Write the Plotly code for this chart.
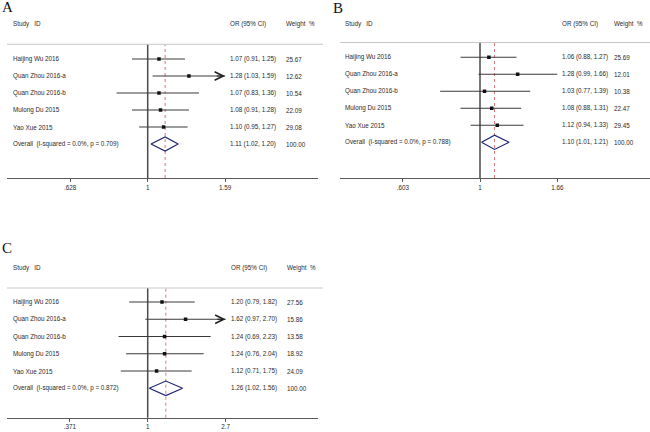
import numpy as np
import plotly.graph_objects as go

# ---------------- data ----------------
studies = ["Haijing Wu 2016", "Quan Zhou 2016-a", "Quan Zhou 2016-b",
           "Mulong Du 2015", "Yao Xue 2015"]

a_or = [1.07, 1.28, 1.07, 1.08, 1.10]
a_lo = [0.91, 1.03, 0.83, 0.91, 0.95]
a_hi = [1.25, 1.59, 1.36, 1.28, 1.27]
a_w = [25.67, 12.62, 10.54, 22.09, 29.08]
a_arrow = [False, True, False, False, False]
a_overall = [1.11, 1.02, 1.20]
a_i2, a_p = "0.0%", "0.709"
a_tickvals = [0.628, 1, 1.59]
a_ticktext = [".628", "1", "1.59"]

b_or = [1.06, 1.28, 1.03, 1.08, 1.12]
b_lo = [0.88, 0.99, 0.77, 0.88, 0.94]
b_hi = [1.27, 1.66, 1.39, 1.31, 1.33]
b_w = [25.69, 12.01, 10.38, 22.47, 29.45]
b_arrow = [False, False, False, False, False]
b_overall = [1.10, 1.01, 1.21]
b_i2, b_p = "0.0%", "0.788"
b_tickvals = [0.603, 1, 1.66]
b_ticktext = [".603", "1", "1.66"]

c_or = [1.20, 1.62, 1.24, 1.24, 1.12]
c_lo = [0.79, 0.97, 0.69, 0.76, 0.71]
c_hi = [1.82, 2.70, 2.23, 2.04, 1.75]
c_w = [27.56, 15.86, 13.58, 18.92, 24.09]
c_arrow = [False, True, False, False, False]
c_overall = [1.26, 1.02, 1.56]
c_i2, c_p = "0.0%", "0.872"
c_tickvals = [0.371, 1, 2.7]
c_ticktext = [".371", "1", "2.7"]

panel_labels = ["A", "B", "C"]

# ---------------- layout geometry (pixels) ----------------
W, H = 650, 432
def px(x):
    return x / W
def py(y):
    return 1 - y / H

FONT = "Liberation Sans, Arial, sans-serif"
FS = 6.3
TXT = "#2a2a2a"

panels = [
    dict(label="A", data=(a_or, a_lo, a_hi, a_w, a_arrow, a_overall, a_i2, a_p, a_tickvals, a_ticktext),
         xd=(7, 318), yd=(44.3, 178), xnull=147.7, scale=167.0, row0=59.0, rstep=17.0,
         head_y=24, lab=(0, 7), name_x=11, or_x=228, w_x=284, ax="x", ay="y"),
    dict(label="B", data=(b_or, b_lo, b_hi, b_w, b_arrow, b_overall, b_i2, b_p, b_tickvals, b_ticktext),
         xd=(340, 650), yd=(42.5, 178), xnull=480.0, scale=152.5, row0=57.3, rstep=17.0,
         head_y=24, lab=(331, 8), name_x=343, or_x=560, w_x=612, ax="x2", ay="y2"),
    dict(label="C", data=(c_or, c_lo, c_hi, c_w, c_arrow, c_overall, c_i2, c_p, c_tickvals, c_ticktext),
         xd=(7, 318), yd=(288, 417.7), xnull=147.7, scale=78.5, row0=302.0, rstep=17.26,
         head_y=267.7, lab=(0, 248), name_x=11, or_x=229, w_x=285, ax="x3", ay="y3"),
]

fig = go.Figure()
annotations = []
shapes = []
layout_axes = {}

for p in panels:
    ors, los, his, ws, arrows, ov, i2, pval, tv, tt = p["data"]
    xa, ya = p["ax"], p["ay"]
    xkey = "xaxis" + xa[1:]
    ykey = "yaxis" + ya[1:]
    x0, x1 = p["xd"]
    yt, yb = p["yd"]
    lnlo = (x0 - p["xnull"]) / p["scale"]
    lnhi = (x1 - p["xnull"]) / p["scale"]
    yr_top = (yt - p["row0"]) / p["rstep"]
    yr_bot = (yb - p["row0"]) / p["rstep"]

    layout_axes[xkey] = dict(
        domain=[px(x0), px(x1)], type="log",
        range=[lnlo / np.log(10), lnhi / np.log(10)],
        anchor=ya, showgrid=False, zeroline=False,
        showline=True, linecolor="#5a5a5a", linewidth=1.3,
        ticks="outside", ticklen=3, tickwidth=1, tickcolor="#5a5a5a",
        tickvals=tv, ticktext=tt, tickfont=dict(family=FONT, size=FS, color=TXT),
        fixedrange=True,
    )
    layout_axes[ykey] = dict(
        domain=[py(yb), py(yt)], range=[yr_bot, yr_top], anchor=xa,
        visible=False, fixedrange=True,
    )

    # study CI lines and point estimates
    for i in range(len(studies)):
        fig.add_trace(go.Scatter(x=[los[i], his[i]], y=[i, i], mode="lines",
                                 line=dict(color="#3a3a3a", width=1.1),
                                 xaxis=xa, yaxis=ya, hoverinfo="skip", showlegend=False))
        if arrows[i]:
            annotations.append(dict(x=np.log10(his[i]), y=i, xref=xa, yref=ya,
                                    ax=-10, ay=0, showarrow=True, arrowhead=5,
                                    arrowsize=1.7, arrowwidth=1, arrowcolor="#222",
                                    text=""))
    fig.add_trace(go.Scatter(x=ors, y=list(range(len(studies))), mode="markers",
                             marker=dict(symbol="square", size=3.5, color="#111"),
                             xaxis=xa, yaxis=ya, hoverinfo="skip", showlegend=False))

    # overall diamond
    orow = len(studies)
    est, olo, ohi = ov
    hh = 0.42
    fig.add_trace(go.Scatter(x=[olo, est, ohi, est, olo],
                             y=[orow, orow - hh, orow, orow + hh, orow],
                             mode="lines", line=dict(color="#1f2470", width=1.2),
                             xaxis=xa, yaxis=ya, hoverinfo="skip", showlegend=False))

    # null line and overall dashed line
    shapes.append(dict(type="line", xref=xa, yref=ya + " domain", x0=1, x1=1, y0=0, y1=1,
                       line=dict(color="#4a4a4a", width=1.5), layer="below"))
    shapes.append(dict(type="line", xref=xa, yref=ya + " domain", x0=est, x1=est, y0=0, y1=1,
                       line=dict(color="#d46a6a", width=0.9, dash="dot"), layer="below"))
    # header separator
    shapes.append(dict(type="line", xref="paper", yref=ya + " domain",
                       x0=px(x0), x1=px(min(x1 + 5, W)), y0=1, y1=1,
                       line=dict(color="#c8c8c8", width=1)))

    # text columns
    def txt(x, y, s, yref="paper"):
        annotations.append(dict(x=px(x), y=y, xref="paper", yref=yref, text=s,
                                showarrow=False, xanchor="left", yanchor="middle",
                                font=dict(family=FONT, size=FS, color=TXT)))
    txt(p["name_x"], py(p["head_y"]), "Study\u00a0\u00a0\u00a0ID")
    txt(p["or_x"], py(p["head_y"]), "OR (95% CI)")
    txt(p["w_x"], py(p["head_y"]), "Weight\u00a0\u00a0%")
    for i, s in enumerate(studies):
        txt(p["name_x"], i, s, yref=ya)
        txt(p["or_x"], i, f"{ors[i]:.2f} ({los[i]:.2f}, {his[i]:.2f})", yref=ya)
        txt(p["w_x"], i, f"{ws[i]:.2f}", yref=ya)
    txt(p["name_x"], orow, f"Overall\u00a0\u00a0(I-squared = {i2}, p = {pval})", yref=ya)
    txt(p["or_x"], orow, f"{est:.2f} ({olo:.2f}, {ohi:.2f})", yref=ya)
    txt(p["w_x"], orow, f"{100:.2f}", yref=ya)

    # panel label
    lx, ly = p["lab"]
    annotations.append(dict(x=px(lx), y=py(ly), xref="paper", yref="paper", text=p["label"],
                            showarrow=False, xanchor="left", yanchor="middle",
                            font=dict(family="Liberation Serif, Times New Roman, serif",
                                      size=15, color="#111")))

fig.update_layout(
    width=W, height=H, margin=dict(l=0, r=0, t=0, b=0),
    paper_bgcolor="white", plot_bgcolor="rgba(0,0,0,0)",
    showlegend=False, annotations=annotations, shapes=shapes,
    **layout_axes,
)

fig.write_html("out.html", config={"displayModeBar": False},
               post_script="document.body.style.margin='0';document.body.style.padding='0';")
